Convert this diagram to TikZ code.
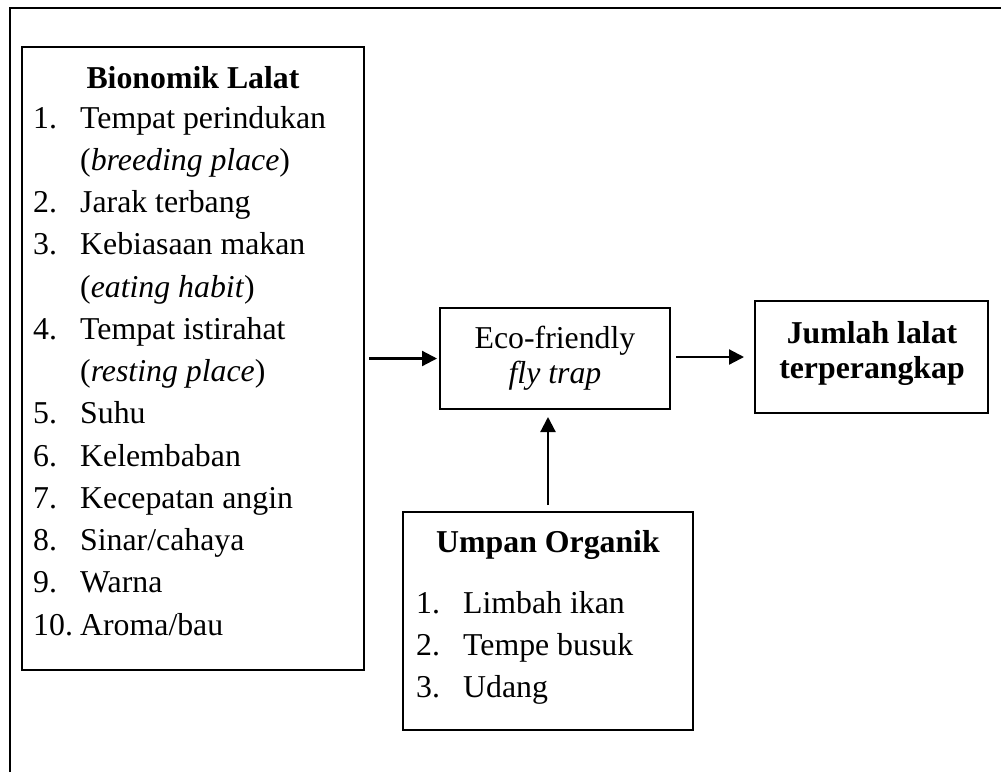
\documentclass[tikz,border=0pt]{standalone}
\usepackage{fontspec}
\setmainfont{Liberation Serif}
\usetikzlibrary{arrows.meta}
\begin{document}
\begin{tikzpicture}[x=1pt,y=-1pt,
  box/.style={draw, line width=2pt, rectangle, inner sep=0pt},
  arr/.style={line width=2.2pt, -{Triangle[length=15pt,width=15pt]}},
  txt/.style={inner sep=0pt, font=\fontsize{31.8}{42}\selectfont},
  btxt/.style={inner sep=0pt, anchor=base, font=\fontsize{31.8}{42}\selectfont\bfseries},
  lt/.style={txt, anchor=base west},
  ct/.style={txt, anchor=base}]
\useasboundingbox (0,0) rectangle (1001,772);
\coordinate (fa) at (10,772);
\coordinate (fb) at (10,8);
\coordinate (fc) at (1001,8);
\draw[line width=2.4pt] (fa) -- (fb) -- (fc);

% boxes
\node[box, minimum width=342pt, minimum height=623pt] (bio) at (193,358.5) {};
\node[box, minimum width=230pt, minimum height=101pt] (mid) at (555,358.5) {};
\node[box, minimum width=233pt, minimum height=112pt] (res) at (871.5,357) {};
\node[box, minimum width=290pt, minimum height=218pt] (bait) at (548,621) {};

% left box text
\node[btxt] (bh) at (193,88) {Bionomik Lalat};
\node[lt] (n1) at (33,128) {1.};      \node[lt] (i1) at (80,128) {Tempat perindukan};
\node[lt] (i1b) at (80,170.25) {(\textit{breeding place})};
\node[lt] (n2) at (33,212.5) {2.};    \node[lt] (i2) at (80,212.5) {Jarak terbang};
\node[lt] (n3) at (33,254.75) {3.};   \node[lt] (i3) at (80,254.75) {Kebiasaan makan};
\node[lt] (i3b) at (80,297) {(\textit{eating habit})};
\node[lt] (n4) at (33,339.25) {4.};   \node[lt] (i4) at (80,339.25) {Tempat istirahat};
\node[lt] (i4b) at (80,381.5) {(\textit{resting place})};
\node[lt] (n5) at (33,423.75) {5.};   \node[lt] (i5) at (80,423.75) {Suhu};
\node[lt] (n6) at (33,466) {6.};      \node[lt] (i6) at (80,466) {Kelembaban};
\node[lt] (n7) at (33,508.25) {7.};   \node[lt] (i7) at (80,508.25) {Kecepatan angin};
\node[lt] (n8) at (33,550.5) {8.};    \node[lt] (i8) at (80,550.5) {Sinar/cahaya};
\node[lt] (n9) at (33,592.75) {9.};   \node[lt] (i9) at (80,592.75) {Warna};
\node[lt] (n10) at (33,635) {10.};    \node[lt] (i10) at (80,635) {Aroma/bau};

% middle box text
\node[ct] (m1) at (555,348) {Eco-friendly};
\node[ct] (m2) at (555,383) {\textit{fly trap}};

% result box text
\node[btxt] (r1) at (872,343) {Jumlah lalat};
\node[btxt] (r2) at (872,378) {terperangkap};

% bait box text
\node[btxt] (uh) at (548,552) {Umpan Organik};
\node[lt] (u1n) at (416,613) {1.};  \node[lt] (u1) at (463,613) {Limbah ikan};
\node[lt] (u2n) at (416,655) {2.};  \node[lt] (u2) at (463,655) {Tempe busuk};
\node[lt] (u3n) at (416,697) {3.};  \node[lt] (u3) at (463,697) {Udang};

% connectors
\draw[arr, shorten <=4pt, shorten >=2pt] (bio.east |- mid.west) -- (mid.west);
\draw[arr, shorten <=5pt, shorten >=10pt] ([yshift=1.5pt]mid.east) -- ([yshift=1.5pt]mid.east -| res.west);
\draw[arr, shorten <=6pt, shorten >=7pt] (bait.north) -- (bait.north |- mid.south);
\end{tikzpicture}
\end{document}
